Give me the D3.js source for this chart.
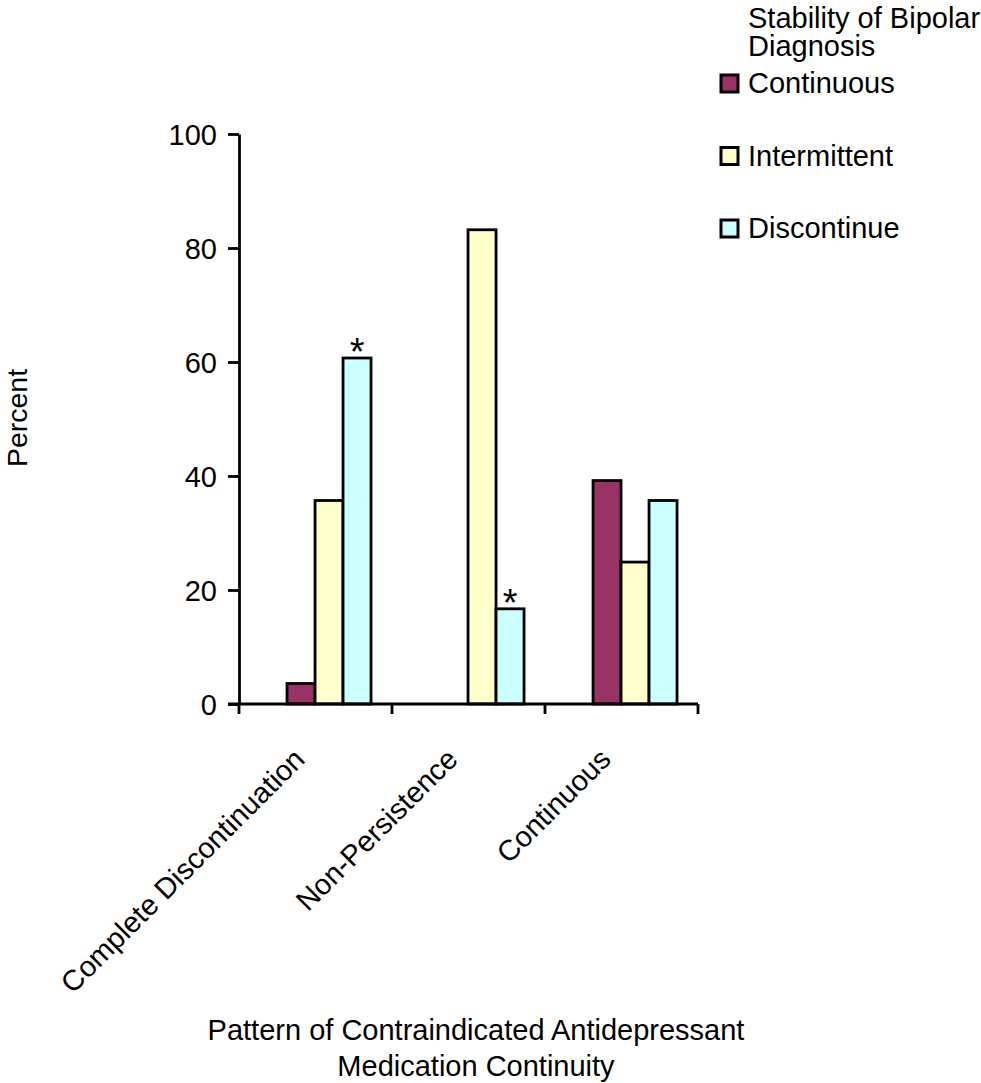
<!DOCTYPE html>
<html>
<head>
<meta charset="utf-8">
<script src="https://cdn.jsdelivr.net/npm/d3@7"></script>
<style>
  html, body { margin: 0; padding: 0; background: #fff; }
  svg { display: block; font-family: "Liberation Sans", Arial, sans-serif; }
</style>
</head>
<body>
<svg id="chart" width="981" height="1083"></svg>
<script>
const categories = ["Complete Discontinuation", "Non-Persistence", "Continuous"];
const seriesNames = ["Continuous", "Intermittent", "Discontinue"];
const continuousVals   = [3.6, 0, 39.2];
const intermittentVals = [35.7, 83.2, 24.9];
const discontinueVals  = [60.7, 16.7, 35.7];
const seriesColors = ["#993366", "#FFFFCC", "#CCFFFF"];
const yTicks = [0, 20, 40, 60, 80, 100];
const starMarks = [
  { category: "Complete Discontinuation", series: "Discontinue", label: "*" },
  { category: "Non-Persistence", series: "Discontinue", label: "*" }
];
const legendTitle = ["Stability of Bipolar", "Diagnosis"];
const yTitle = "Percent";
const xTitle = ["Pattern of Contraindicated Antidepressant", "Medication Continuity"];

const seriesValues = [continuousVals, intermittentVals, discontinueVals];
const rows = [];
categories.forEach((c, ci) => {
  seriesNames.forEach((s, si) => rows.push({ category: c, series: s, value: seriesValues[si][ci] }));
});

const svg = d3.select("#chart");
const plotLeft = 239, plotRight = 698, plotTop = 134, plotBottom = 704;
const FONT = "Liberation Sans, Arial, sans-serif";

const x0 = d3.scaleBand().domain(categories).range([plotLeft, plotRight]).padding(0);
const bw = x0.bandwidth();
const x1 = d3.scaleBand().domain(seriesNames).range([bw * 0.314, bw * 0.863]).padding(0);
const y = d3.scaleLinear().domain([0, 100]).range([plotBottom, plotTop]);
const color = d3.scaleOrdinal().domain(seriesNames).range(seriesColors);

// bars
svg.append("g").selectAll("rect").data(rows.filter(d => d.value > 0)).join("rect")
  .attr("x", d => x0(d.category) + x1(d.series))
  .attr("y", d => y(d.value))
  .attr("width", x1.bandwidth())
  .attr("height", d => y(0) - y(d.value))
  .attr("fill", d => color(d.series))
  .attr("stroke", "#000")
  .attr("stroke-width", 2.8);

// stars
svg.append("g").selectAll("text").data(starMarks).join("text")
  .attr("x", d => x0(d.category) + x1(d.series) + x1.bandwidth() / 2)
  .attr("y", d => {
    const r = rows.find(q => q.category === d.category && q.series === d.series);
    return y(r.value) + 7;
  })
  .attr("text-anchor", "middle")
  .attr("font-size", 38)
  .attr("fill", "#000")
  .text(d => d.label);

// y axis
const yAxis = d3.axisLeft(y).tickValues(yTicks).tickSize(11).tickSizeOuter(0).tickPadding(11);
const gy = svg.append("g").attr("transform", `translate(${plotLeft},0)`).call(yAxis);
gy.select(".domain").attr("stroke", "#000").attr("stroke-width", 2.8);
gy.selectAll(".tick line").attr("stroke", "#000").attr("stroke-width", 2.8);
gy.selectAll(".tick text").attr("font-size", 29).attr("fill", "#000")
  .attr("font-family", FONT).attr("dy", "0.36em");

// x axis (ticks at category boundaries)
const boundaries = categories.map(c => x0(c)).concat([plotRight]);
const gx = svg.append("g");
gx.append("line").attr("x1", plotLeft - 11).attr("x2", plotRight).attr("y1", plotBottom).attr("y2", plotBottom)
  .attr("stroke", "#000").attr("stroke-width", 2.8);
gx.selectAll("line.tk").data(boundaries).join("line").attr("class", "tk")
  .attr("x1", d => d).attr("x2", d => d).attr("y1", plotBottom).attr("y2", plotBottom + 10)
  .attr("stroke", "#000").attr("stroke-width", 2.8);

// x category labels rotated -45
gx.selectAll("text").data(categories).join("text")
  .attr("transform", d => `translate(${x0(d) + bw / 2 - 9},${plotBottom + 57}) rotate(-45)`)
  .attr("text-anchor", "end")
  .attr("font-size", 29)
  .attr("fill", "#000")
  .text(d => d);

// y title
svg.append("text")
  .attr("transform", `translate(27,418) rotate(-90)`)
  .attr("text-anchor", "middle")
  .attr("font-size", 28.5)
  .attr("fill", "#000")
  .text(yTitle);

// x title
svg.append("g").selectAll("text").data(xTitle).join("text")
  .attr("x", 476)
  .attr("y", (d, i) => 1040 + i * 36)
  .attr("text-anchor", "middle")
  .attr("font-size", 29)
  .attr("fill", "#000")
  .text(d => d);

// legend
const lg = svg.append("g");
lg.selectAll("text.title").data(legendTitle).join("text").attr("class", "title")
  .attr("x", 748).attr("y", (d, i) => 28 + i * 28)
  .attr("font-size", 29).attr("fill", "#000").text(d => d);
const items = lg.selectAll("g.item").data(seriesNames).join("g").attr("class", "item")
  .attr("transform", (d, i) => `translate(0,${93 + i * 72.5})`);
items.append("rect").attr("x", 721).attr("y", -18).attr("width", 17).attr("height", 17)
  .attr("fill", d => color(d)).attr("stroke", "#000").attr("stroke-width", 3);
items.append("text").attr("x", 748).attr("y", 0).attr("font-size", 29).attr("fill", "#000")
  .text(d => d);
</script>
</body>
</html>
